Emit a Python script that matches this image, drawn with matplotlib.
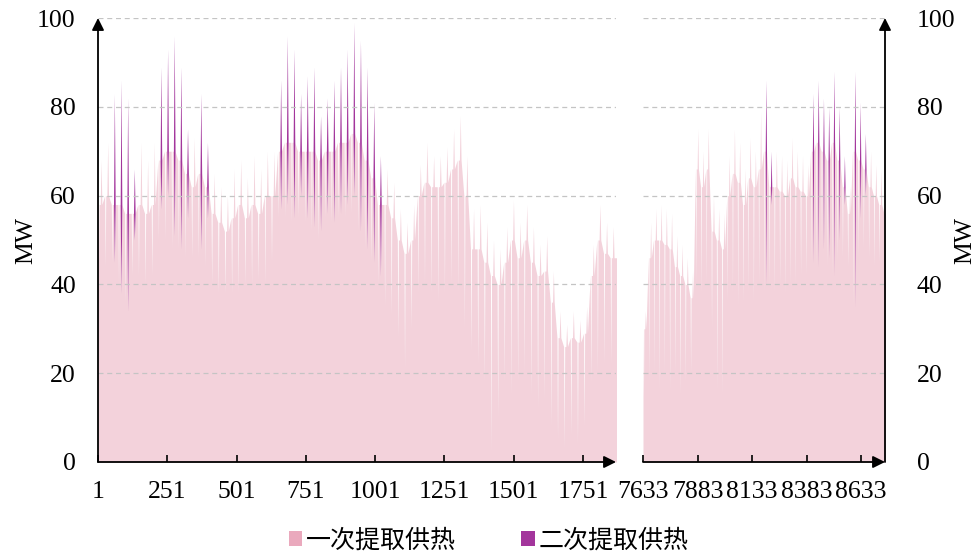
import numpy as np
import matplotlib
matplotlib.use("Agg")
import matplotlib.pyplot as plt
from matplotlib.patches import Patch

# ---------------- data (daily values, MW) ----------------
# left block: hours 1 .. ~1870 (one entry per day)
left_hi = [68, 72, 83, 86, 82, 66, 72, 68, 72, 89, 93, 96, 89, 75, 73, 83, 72, 65, 62, 60,
           66, 68, 64, 69, 66, 70, 70, 86, 96, 93, 83, 87, 89, 78, 82, 86, 89, 93, 99, 95,
           89, 81, 69, 66, 63, 57, 54, 58, 67, 72, 69, 69, 71, 75, 78, 69, 57, 58, 54, 50,
           48, 53, 59, 54, 58, 53, 49, 51, 43, 34, 31, 34, 32, 35, 49, 58, 54, 53]
left_mid = [58, 60, 58, 58, 56, 56, 58, 56, 58, 68, 70, 70, 68, 65, 62, 65, 62, 56, 54, 52,
            55, 58, 55, 58, 56, 60, 60, 70, 72, 72, 70, 70, 70, 68, 70, 70, 72, 72, 74, 72,
            68, 64, 58, 58, 55, 50, 47, 50, 60, 63, 62, 62, 63, 66, 68, 60, 48, 48, 45, 42,
            40, 45, 50, 46, 50, 45, 42, 43, 36, 28, 26, 28, 27, 29, 42, 50, 47, 46]
left_lo = [45, 44, 45, 40, 36, 42, 42, 40, 42, 50, 50, 48, 48, 46, 46, 46, 44, 40, 38, 38,
           38, 38, 40, 40, 41, 40, 45, 55, 55, 54, 55, 54, 52, 50, 55, 54, 55, 55, 56, 52,
           48, 45, 40, 35, 33, 28, 21, 30, 38, 40, 38, 36, 38, 40, 38, 30, 25, 22, 18, 2,
           10, 18, 15, 18, 20, 15, 12, 14, 8, 5, 3, 6, 4, 8, 18, 20, 22, 22]
left_p2 = [0, 0, 38, 48, 48, 16, 0, 0, 0, 32, 33, 45, 41, 20, 0, 35, 17, 0, 0, 0,
           0, 0, 0, 0, 0, 0, 0, 29, 38, 38, 23, 32, 36, 26, 26, 32, 33, 35, 39, 43,
           41, 36, 27, 0, 0, 0, 0, 0, 0, 0, 0, 0, 0, 0, 0, 0, 0, 0, 0, 0,
           0, 0, 0, 0, 0, 0, 0, 0, 0, 0, 0, 0, 0, 0, 0, 0, 0, 0]

# right block: hours 7633 .. 8760 (one entry per day)
right_hi = [34, 54, 57, 58, 57, 56, 51, 49, 46, 43, 75, 70, 75, 60, 57, 56, 69, 75, 72, 66,
            73, 70, 79, 86, 70, 70, 69, 68, 73, 70, 69, 67, 83, 86, 82, 80, 88, 80, 69, 62,
            88, 81, 74, 70, 67, 66, 64]
right_mid = [30, 46, 50, 50, 49, 48, 44, 42, 40, 37, 66, 62, 66, 52, 50, 48, 60, 65, 63, 58,
             64, 62, 66, 70, 62, 62, 61, 60, 64, 62, 61, 60, 70, 72, 70, 68, 72, 68, 62, 56,
             70, 68, 66, 62, 60, 58, 56]
right_lo = [15, 18, 20, 16, 20, 16, 20, 15, 18, 20, 40, 38, 40, 30, 16, 15, 36, 38, 35, 36,
            38, 36, 40, 38, 40, 38, 40, 38, 40, 40, 42, 42, 45, 44, 48, 44, 42, 45, 46, 44,
            35, 46, 48, 46, 44, 45, 44]
right_p2 = [0, 0, 0, 0, 0, 0, 0, 0, 0, 0, 0, 0, 0, 0, 0, 0, 0, 0, 0, 0,
            0, 0, 0, 46, 12, 0, 0, 0, 0, 0, 0, 0, 38, 42, 34, 34, 46, 30, 11, 0,
            53, 26, 14, 0, 0, 0, 0]

left_ticks = [1, 251, 501, 751, 1001, 1251, 1501, 1751]
right_ticks = [7633, 7883, 8133, 8383, 8633]
y_ticks = [0, 20, 40, 60, 80, 100]
series_names = ["一次提取供热", "二次提取供热"]

PINK = "#f3d2db"
PINK_LEG = "#eaa9bd"
PURPLE = "#a3359c"


def build(start, hi, mid, lo, p2):
    hours, pink, purple = [], [], []
    for d in range(len(hi)):
        t0 = start + 24 * d
        for off, pk, pu in [(0, mid[d], 0), (2, lo[d], 0), (4, mid[d], 0), (8, mid[d], 0),
                            (11, hi[d] - p2[d], p2[d]), (14, mid[d], 0)]:
            hours.append(t0 + off)
            pink.append(pk)
            purple.append(pu)
    hours.append(start + 24 * len(hi))
    pink.append(mid[-1])
    purple.append(0.0)
    return np.array(hours, float), np.array(pink, float), np.array(purple, float)


plt.rcParams["font.family"] = ["Liberation Serif", "Noto Sans CJK SC"]
fig = plt.figure(figsize=(9.77, 5.6), dpi=100)
axL = fig.add_axes([98 / 977, 98 / 560, 518 / 977, 444 / 560])
axR = fig.add_axes([643 / 977, 98 / 560, 242 / 977, 444 / 560])

for ax, start, hi, mid, lo, p2, xl, ticks in [
        (axL, 1, left_hi, left_mid, left_lo, left_p2, (1, 1870), left_ticks),
        (axR, 7633, right_hi, right_mid, right_lo, right_p2, (7633, 8742), right_ticks)]:
    h, pk, pu = build(start, hi, mid, lo, p2)
    ax.fill_between(h, 0, pk, color=PINK, lw=0, zorder=1)
    ax.fill_between(h, pk, pk + pu, color=PURPLE, lw=0, zorder=2)
    ax.set_xlim(*xl)
    ax.set_ylim(0, 100)
    for yv in y_ticks[1:]:
        ax.axhline(yv, color="#c4c4c4", lw=0.9, ls=(0, (4, 3)), zorder=3)
    for s in ax.spines.values():
        s.set_visible(False)
    ax.set_xticks(ticks)
    ax.set_xticklabels([str(t) for t in ticks])
    ax.tick_params(axis="x", direction="in", length=5, width=1.2, labelsize=18.5, pad=14)
    ax.patch.set_alpha(0)
    # bottom axis arrow
    ax.annotate("", xy=(1, 0), xytext=(0, 0), xycoords="axes fraction",
                arrowprops=dict(arrowstyle="-|>", color="black", lw=1.3,
                                mutation_scale=18, shrinkA=0, shrinkB=0), zorder=5)

# y axes
axL.annotate("", xy=(0, 1), xytext=(0, 0), xycoords="axes fraction",
             arrowprops=dict(arrowstyle="-|>", color="black", lw=1.3,
                             mutation_scale=18, shrinkA=0, shrinkB=0))
axR.annotate("", xy=(1, 1), xytext=(1, 0), xycoords="axes fraction",
             arrowprops=dict(arrowstyle="-|>", color="black", lw=1.3,
                             mutation_scale=18, shrinkA=0, shrinkB=0))
axL.set_yticks(y_ticks)
axL.set_yticklabels([str(v) for v in y_ticks])
axL.tick_params(axis="y", length=0, labelsize=18.5, pad=16)
axL.set_ylabel("MW", fontsize=18.5, labelpad=0)
axR.yaxis.tick_right()
axR.yaxis.set_label_position("right")
axR.set_yticks(y_ticks)
axR.set_yticklabels([str(v) for v in y_ticks])
axR.tick_params(axis="y", length=0, labelsize=18.5, pad=23)
axR.set_ylabel("MW", fontsize=18.5, labelpad=-1, rotation=90)

handles = [Patch(facecolor=PINK_LEG, edgecolor="none"),
           Patch(facecolor=PURPLE, edgecolor="none")]
fig.legend(handles, series_names, loc="center", bbox_to_anchor=(0.5, 0.035), ncol=2,
           frameon=False, prop={"family": ["Noto Sans CJK SC"], "size": 18},
           handlelength=0.55, handleheight=0.55, handletextpad=0.15, columnspacing=2.6)

fig.savefig("out.png", dpi=100)
